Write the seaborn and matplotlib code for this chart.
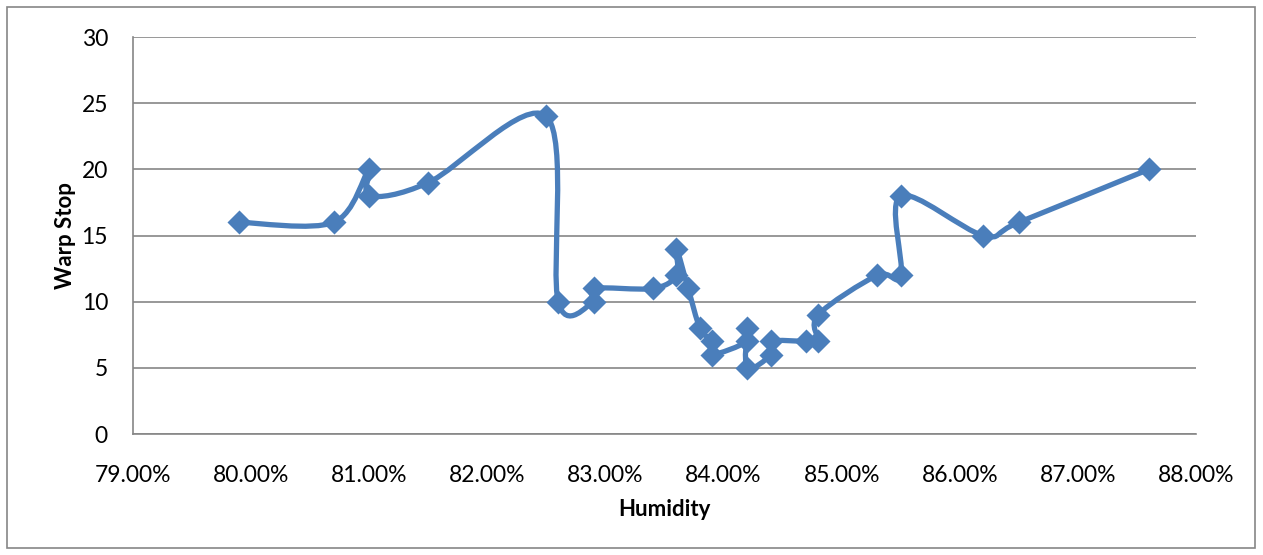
import numpy as np
import pandas as pd
import seaborn as sns
import matplotlib.pyplot as plt
from matplotlib.path import Path
from matplotlib.patches import PathPatch, Rectangle
from matplotlib.ticker import PercentFormatter

# dati
umidita = [79.9, 80.7, 81.0, 81.0, 81.5, 82.5, 82.6, 82.9, 82.9, 83.4,
           83.6, 83.6, 83.7, 83.8, 83.9, 83.9, 84.2, 84.2, 84.2, 84.4,
           84.4, 84.7, 84.8, 84.8, 85.3, 85.5, 85.5, 86.2, 86.5, 87.6]
warp_stop = [16, 16, 20, 18, 19, 24, 10, 10, 11, 11,
             12, 14, 11, 8, 7, 6, 7, 8, 5, 6,
             7, 7, 7, 9, 12, 12, 18, 15, 16, 20]

BLU = "#4a7ebb"
GRIGIO = "#868686"


def curva_smussata(x, y):
    # bezier come la linea "smussata" di Excel
    pts = np.column_stack([x, y]).astype(float)
    n = len(pts)
    verts = [pts[0]]
    codes = [Path.MOVETO]
    for i in range(n - 1):
        p0 = pts[max(i - 1, 0)]
        p1 = pts[i]
        p2 = pts[i + 1]
        p3 = pts[min(i + 2, n - 1)]
        c1 = p1 + (p2 - p0) / 6
        c2 = p2 - (p3 - p1) / 6
        verts += [c1, c2, p2]
        codes += [Path.CURVE4] * 3
    return Path(verts, codes)


df = pd.DataFrame({"Humidity": umidita, "Warp Stop": warp_stop})

sns.set_style("white")
plt.rcParams["font.family"] = ["Lato", "DejaVu Sans"]
plt.rcParams["text.color"] = "black"
plt.rcParams["xtick.color"] = "black"
plt.rcParams["ytick.color"] = "black"
plt.rcParams["axes.labelcolor"] = "black"

fig = plt.figure(figsize=(12.63, 5.55), dpi=100)
ax = fig.add_axes([0.1053, 0.218, 0.8417, 0.7152])

fig.patches.append(Rectangle((7 / 1263, 7 / 555), 1248 / 1263, 541 / 555,
                             transform=fig.transFigure, fill=False,
                             edgecolor=GRIGIO, linewidth=1.2))

ax.add_patch(PathPatch(curva_smussata(df["Humidity"], df["Warp Stop"]),
                       fill=False, edgecolor=BLU, linewidth=3.8,
                       capstyle="round", joinstyle="round", zorder=2))
sns.scatterplot(data=df, x="Humidity", y="Warp Stop", marker="D", s=150,
                color=BLU, edgecolor=BLU, linewidth=0, ax=ax, zorder=3)

ax.set_xlim(79, 88)
ax.set_ylim(0, 30)
ax.set_xticks(np.arange(79, 89, 1))
ax.set_yticks(np.arange(0, 31, 5))
ax.xaxis.set_major_formatter(PercentFormatter(100, decimals=2))
ax.grid(axis="y", color=GRIGIO, linewidth=1.2)
ax.set_axisbelow(True)

for lato in ["top", "right"]:
    ax.spines[lato].set_visible(False)
for lato in ["left", "bottom"]:
    ax.spines[lato].set_color(GRIGIO)
    ax.spines[lato].set_linewidth(1.2)

ax.tick_params(axis="x", labelsize=16.5, length=0, pad=22)
ax.tick_params(axis="y", labelsize=16.5, length=0, pad=18)
ax.set_xlabel("Humidity", fontsize=16, fontweight="bold", labelpad=10)
ax.set_ylabel("Warp Stop", fontsize=16, fontweight="bold", labelpad=4)

plt.savefig("out.png", dpi=100)
